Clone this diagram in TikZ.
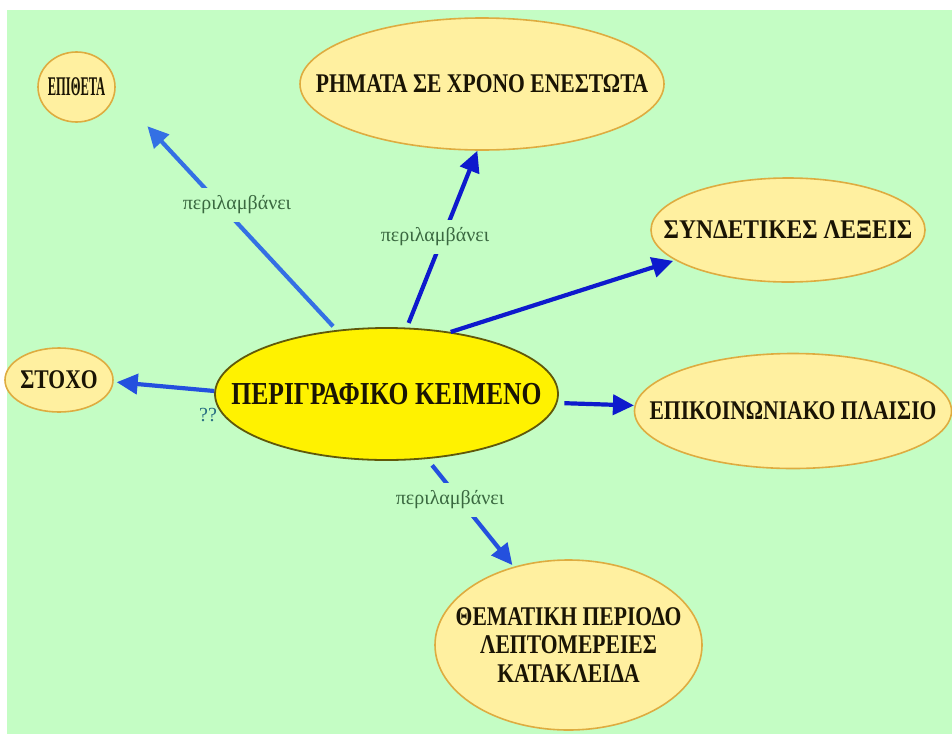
\documentclass[tikz,border=0pt]{standalone}
\usepackage{fontspec}
\usetikzlibrary{shapes.geometric,arrows.meta}
\newfontfamily\greekbold[FakeStretch=0.8]{Liberation Serif}
\newfontfamily\greekplain{Liberation Serif}
\definecolor{paper}{RGB}{196,253,196}
\definecolor{leaffill}{RGB}{255,240,160}
\definecolor{leafline}{RGB}{222,172,64}
\definecolor{hubfill}{RGB}{255,242,0}
\definecolor{hubline}{RGB}{96,88,10}
\definecolor{inktext}{RGB}{26,20,4}
\definecolor{darkarrow}{RGB}{14,26,205}
\definecolor{midarrow}{RGB}{36,80,222}
\definecolor{lightarrow}{RGB}{52,112,228}
\definecolor{labeltext}{RGB}{58,104,64}
\definecolor{qtext}{RGB}{40,110,130}
\begin{document}
\begin{tikzpicture}[x=1pt,y=-1pt,
  leaf/.style={ellipse, draw=leafline, line width=1.6pt, fill=leaffill, inner sep=0pt},
  hub/.style={ellipse, draw=hubline, line width=1.8pt, fill=hubfill, inner sep=0pt},
  caption/.style={font=\greekbold\bfseries\fontsize{27}{28.5}\selectfont, text=inktext, align=center, inner sep=0pt},
  hubcaption/.style={font=\greekbold\bfseries\fontsize{32}{34}\selectfont, text=inktext, inner sep=0pt},
  arr/.style={line width=4.2pt, -{Triangle[length=21pt,width=20pt]}},
  linklabel/.style={font=\greekplain\fontsize{20}{22}\selectfont, text=labeltext, fill=paper, inner xsep=2pt, inner ysep=8pt},
  qmark/.style={font=\greekplain\fontsize{20}{22}\selectfont, text=qtext, inner sep=0pt}]

% page and background
\useasboundingbox (0,0) rectangle (952,734);
\fill[white] (0,0) rectangle (952,734);
\fill[paper] (7,10) rectangle (952,734);

% concept nodes
\node[hub, minimum width=343pt, minimum height=132pt,
      label={[hubcaption]center:ΠΕΡΙΓΡΑΦΙΚΟ ΚΕΙΜΕΝΟ}] (hub) at (386.5,394) {};
\node[leaf, minimum width=77pt, minimum height=70pt,
      label={[caption]center:\scalebox{0.58}[1]{ΕΠΙΘΕΤΑ}}] (epitheta) at (76.5,87) {};
\node[leaf, minimum width=364pt, minimum height=132pt,
      label={[caption]center:ΡΗΜΑΤΑ ΣΕ ΧΡΟΝΟ ΕΝΕΣΤΩΤΑ}] (rhmata) at (482,84) {};
\node[leaf, minimum width=274pt, minimum height=104pt,
      label={[caption]center:\scalebox{1.09}[1]{ΣΥΝΔΕΤΙΚΕΣ ΛΕΞΕΙΣ}}] (syndesmoi) at (788,230) {};
\node[leaf, minimum width=108pt, minimum height=64pt,
      label={[caption]center:ΣΤΟΧΟ}] (stoxo) at (59,380) {};
\node[leaf, minimum width=317pt, minimum height=115pt,
      label={[caption]center:ΕΠΙΚΟΙΝΩΝΙΑΚΟ ΠΛΑΙΣΙΟ}] (plaisio) at (793,411) {};
\node[leaf, minimum width=267pt, minimum height=170pt,
      label={[caption]center:{ΘΕΜΑΤΙΚΗ ΠΕΡΙΟΔΟ\\ΛΕΠΤΟΜΕΡΕΙΕΣ\\ΚΑΤΑΚΛΕΙΔΑ}}] (domh) at (568.5,645) {};

% connectors
\draw[arr, color=lightarrow, shorten <=5pt, shorten >=47pt] (hub.128.6) -- (epitheta.-7.8);
\draw[arr, color=darkarrow, shorten <=5pt] (hub.73.2) -- (rhmata.-94.2);
\draw[arr, color=darkarrow, shorten >=2pt] (hub.44.2) -- (syndesmoi.-165.4);
\draw[arr, color=midarrow, shorten >=3pt] (hub.179.3) -- (stoxo.-2.9);
\draw[arr, color=darkarrow, shorten <=7pt, shorten >=0.5pt] (hub.-3.9) -- (plaisio.178.4);
\draw[arr, color=midarrow, shorten <=8pt, shorten >=2pt] (hub.-58.3) -- (domh.125);

% connector labels
\node[linklabel] (lab1) at (237,205) {περιλαμβάνει};
\node[linklabel] (lab2) at (435,237) {περιλαμβάνει};
\node[linklabel] (lab3) at (450,500) {περιλαμβάνει};
\node[qmark] (lab4) at (208,415) {??};
\end{tikzpicture}
\end{document}
